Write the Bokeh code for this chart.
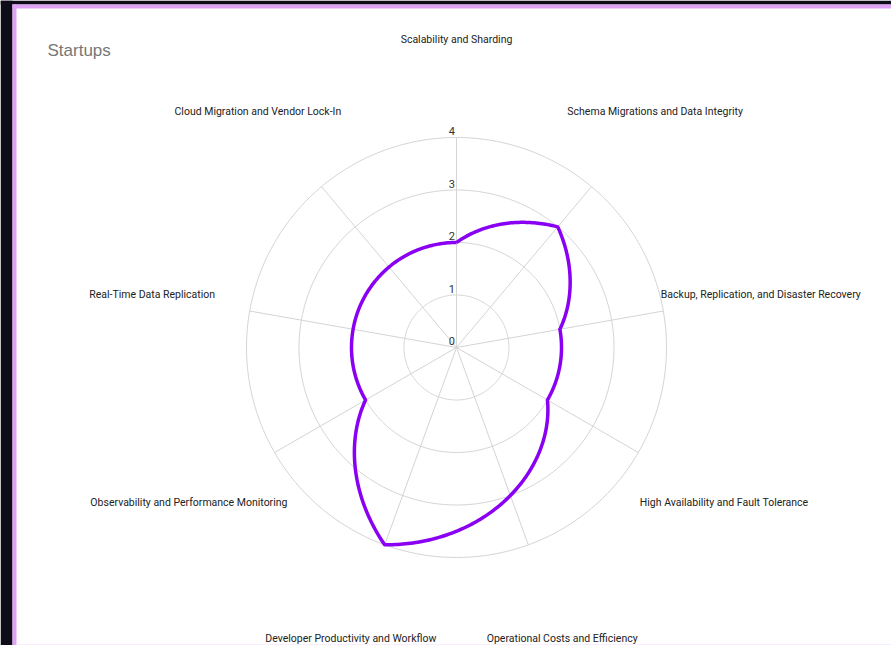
import numpy as np
from bokeh.plotting import figure
from bokeh.models import Range1d
from bokeh.core.properties import value
from bokeh.embed import file_html
from bokeh.resources import INLINE

# ---- data ----
title = "Startups"
categories = [
    "Scalability and Sharding",
    "Schema Migrations and Data Integrity",
    "Backup, Replication, and Disaster Recovery",
    "High Availability and Fault Tolerance",
    "Operational Costs and Efficiency",
    "Developer Productivity and Workflow",
    "Observability and Performance Monitoring",
    "Real-Time Data Replication",
    "Cloud Migration and Vendor Lock-In",
]
values = [2, 3, 2, 2, 3, 4, 2, 2, 2]
ticks = [0, 1, 2, 3, 4]
tick_labels = ["0", "1", "2", "3", "4"]

# ---- layout ----
W, H = 891, 645
CX, CY = 456, 347          # chart centre inside the figure (px)
U = 52.5                   # px per value unit
LABEL_R = 309              # radius of category labels (px)
LINE_COLOR = "#8a00f2"
GRID_COLOR = "#d4d4d4"
DARK = "#0e0c19"
PINK = "#dfa2f5"

p = figure(width=W, height=H, output_backend="svg", toolbar_location=None,
           x_range=Range1d(-CX, W - CX), y_range=Range1d(CY - H, CY),
           x_axis_location=None, y_axis_location=None, min_border=0)
p.grid.visible = False
p.outline_line_color = None
p.background_fill_color = "white"
p.border_fill_color = "white"

# frame decoration (dark page edge + pink panel border)
x0, x1 = -CX, W - CX
y0, y1 = CY - H, CY
p.quad(left=[x0], right=[x0 + 12], bottom=[y0], top=[y1], fill_color=DARK, line_color=None)
p.quad(left=[x0], right=[x1], bottom=[y1 - 4], top=[y1], fill_color=DARK, line_color=None)
p.quad(left=[x0 + 12], right=[x0 + 16], bottom=[y0], top=[y1 - 4], fill_color=PINK, line_color=None)
p.quad(left=[x0 + 12], right=[x1], bottom=[y1 - 8], top=[y1 - 4], fill_color=PINK, line_color=None)
p.quad(left=[x0 + 16], right=[x1], bottom=[y0], top=[y0 + 1], fill_color="#f3ddfb", line_color=None)

N = len(categories)
angles = np.arange(N) * 2 * np.pi / N   # clockwise from top

# rings
t = np.linspace(0, 2 * np.pi, 361)
ring_xs = [list(v * U * np.sin(t)) for v in ticks if v > 0]
ring_ys = [list(v * U * np.cos(t)) for v in ticks if v > 0]
p.multi_line(xs=ring_xs, ys=ring_ys, line_color=GRID_COLOR, line_width=1)

# spokes
rmax = max(ticks) * U
p.segment(x0=[0] * N, y0=[0] * N, x1=list(rmax * np.sin(angles)), y1=list(rmax * np.cos(angles)),
          line_color=GRID_COLOR, line_width=1)

# tick labels
p.text(x=[-1.5] * len(ticks), y=[v * U + 6.5 for v in ticks], text=tick_labels,
       text_align="right", text_baseline="alphabetic",
       text_font=value("Roboto"), text_font_size="11px", text_color="#333333")

# data curve: radius interpolated linearly in angle between axes
xs, ys = [], []
for i in range(N):
    a0 = angles[i]
    a1 = angles[i] + 2 * np.pi / N
    r0 = values[i] * U
    r1 = values[(i + 1) % N] * U
    s = np.linspace(0, 1, 60)
    a = a0 + (a1 - a0) * s
    r = r0 + (r1 - r0) * s
    xs.extend(r * np.sin(a))
    ys.extend(r * np.cos(a))
p.line(xs, ys, line_color=LINE_COLOR, line_width=3.5, line_join="round")

# category labels
p.text(x=list(LABEL_R * np.sin(angles)), y=list(LABEL_R * np.cos(angles) - 0.5), text=categories,
       text_align="center", text_baseline="middle",
       text_font=value("Roboto"), text_font_size="10.5px", text_color="#222222")

# title
p.text(x=[47 - CX], y=[CY - 50], text=[title], text_align="left", text_baseline="alphabetic",
       text_font=value("Liberation Sans"), text_font_size="17px", text_color="#777777")

html = file_html(p, INLINE)
html = html.replace("<body>", '<body style="background-color:%s;">' % DARK, 1)
open("out.html", "w").write(html)
